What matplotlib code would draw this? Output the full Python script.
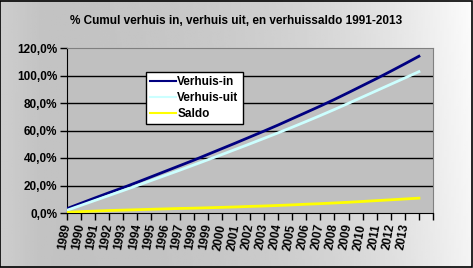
import numpy as np
import matplotlib
matplotlib.use("Agg")
import matplotlib.pyplot as plt
from matplotlib.ticker import FuncFormatter, FixedLocator

# jaren op de x-as (laatste twee posities zonder label)
jaren = [str(j) for j in range(1989, 2014)]

verhuis_in = [3.2, 7.1, 11.0, 14.8, 18.5, 22.4, 26.4, 30.4, 34.4, 38.4,
              42.6, 46.8, 51.0, 55.3, 59.6, 64.0, 68.6, 73.2, 77.8, 82.6,
              87.6, 92.7, 97.8, 103.1, 108.5, 114.0]
verhuis_uit = [2.0, 5.6, 9.2, 12.8, 16.4, 20.0, 23.7, 27.4, 31.1, 34.9,
               38.7, 42.5, 46.4, 50.3, 54.3, 58.3, 62.4, 66.6, 70.9, 75.3,
               79.8, 84.4, 89.0, 93.6, 98.2, 102.8]
saldo = [0.5, 1.0, 1.4, 1.8, 2.1, 2.4, 2.7, 3.0, 3.3, 3.5,
         3.8, 4.1, 4.4, 4.8, 5.1, 5.5, 5.9, 6.4, 6.8, 7.3,
         7.8, 8.4, 9.0, 9.6, 10.2, 10.8]

plt.rcParams['font.family'] = ['Liberation Sans', 'DejaVu Sans']
plt.rcParams['font.weight'] = 'bold'
fs = 8.5

W, H = 473, 268
fig = plt.figure(figsize=(W / 100, H / 100), dpi=100)

# achtergrond met verloop (links grijs, rechts lichter)
bg = fig.add_axes([0, 0, 1, 1], zorder=-10)
xx = np.linspace(0, 1, 200)
yy = np.linspace(0, 1, 100)
X, Y = np.meshgrid(xx, yy)
grad = 0.76 + 0.04 * np.exp(-(X / 0.06) ** 2) + 0.2 * X ** 3 + 0.03 * Y * X
bg.imshow(grad, cmap='gray', vmin=0, vmax=1, aspect='auto',
          extent=[0, 1, 0, 1], origin='lower')
bg.set_xlim(0, 1)
bg.set_ylim(0, 1)
bg.axis('off')
fig.patches.append(plt.Rectangle((0.001, 0.002), 0.997, 0.995, transform=fig.transFigure,
                                 fill=False, edgecolor='black', linewidth=1.2, zorder=5))

ax = fig.add_axes([67 / W, (H - 213) / H, 366 / W, 165 / H])
ax.set_facecolor('#C0C0C0')

x = np.arange(len(verhuis_in))
ax.plot(x, verhuis_in, color='#000080', lw=2, label='Verhuis-in', zorder=3)
ax.plot(x, verhuis_uit, color='#CCFFFF', lw=2, label='Verhuis-uit', zorder=3)
ax.plot(x, saldo, color='#FFFF00', lw=2, label='Saldo', zorder=3)

ax.set_xlim(0, len(jaren) + 1)
ax.set_ylim(0, 120)
ax.set_yticks(np.arange(0, 121, 20))
ax.yaxis.set_major_formatter(FuncFormatter(lambda v, p: f"{v:.1f}%".replace('.', ',')))
ax.xaxis.set_major_locator(FixedLocator(np.arange(len(jaren) + 2)))
ax.set_xticklabels(jaren + ['', ''], rotation=80, ha='right', va='center',
                   rotation_mode='anchor')
for g in range(20, 120, 20):
    ax.axhline(g, color='black', lw=1, zorder=1)

ax.tick_params(axis='both', direction='out', length=5, width=1, color='black',
               labelsize=fs)
ax.tick_params(axis='x', pad=3)
ax.tick_params(axis='y', pad=2)
for lab in ax.get_xticklabels() + ax.get_yticklabels():
    lab.set_fontweight('bold')

ax.spines['left'].set_color('black')
ax.spines['bottom'].set_color('black')
ax.spines['top'].set_color('#808080')
ax.spines['right'].set_color('#808080')

leg = ax.legend(loc='upper left', bbox_to_anchor=(0.216, 0.855), borderaxespad=0,
                frameon=True, fancybox=False, framealpha=1, edgecolor='black',
                prop={'size': fs, 'weight': 'bold'}, handlelength=2.2,
                handletextpad=0.1, labelspacing=0.35, borderpad=0.35)
leg.get_frame().set_linewidth(1)
for h in leg.get_lines():
    h.set_linewidth(1.5)

fig.text(236 / W, 1 - 21 / H, '% Cumul verhuis in, verhuis uit, en verhuissaldo 1991-2013',
         ha='center', va='center', fontsize=fs, fontweight='bold')

fig.savefig('out.png', dpi=100)
